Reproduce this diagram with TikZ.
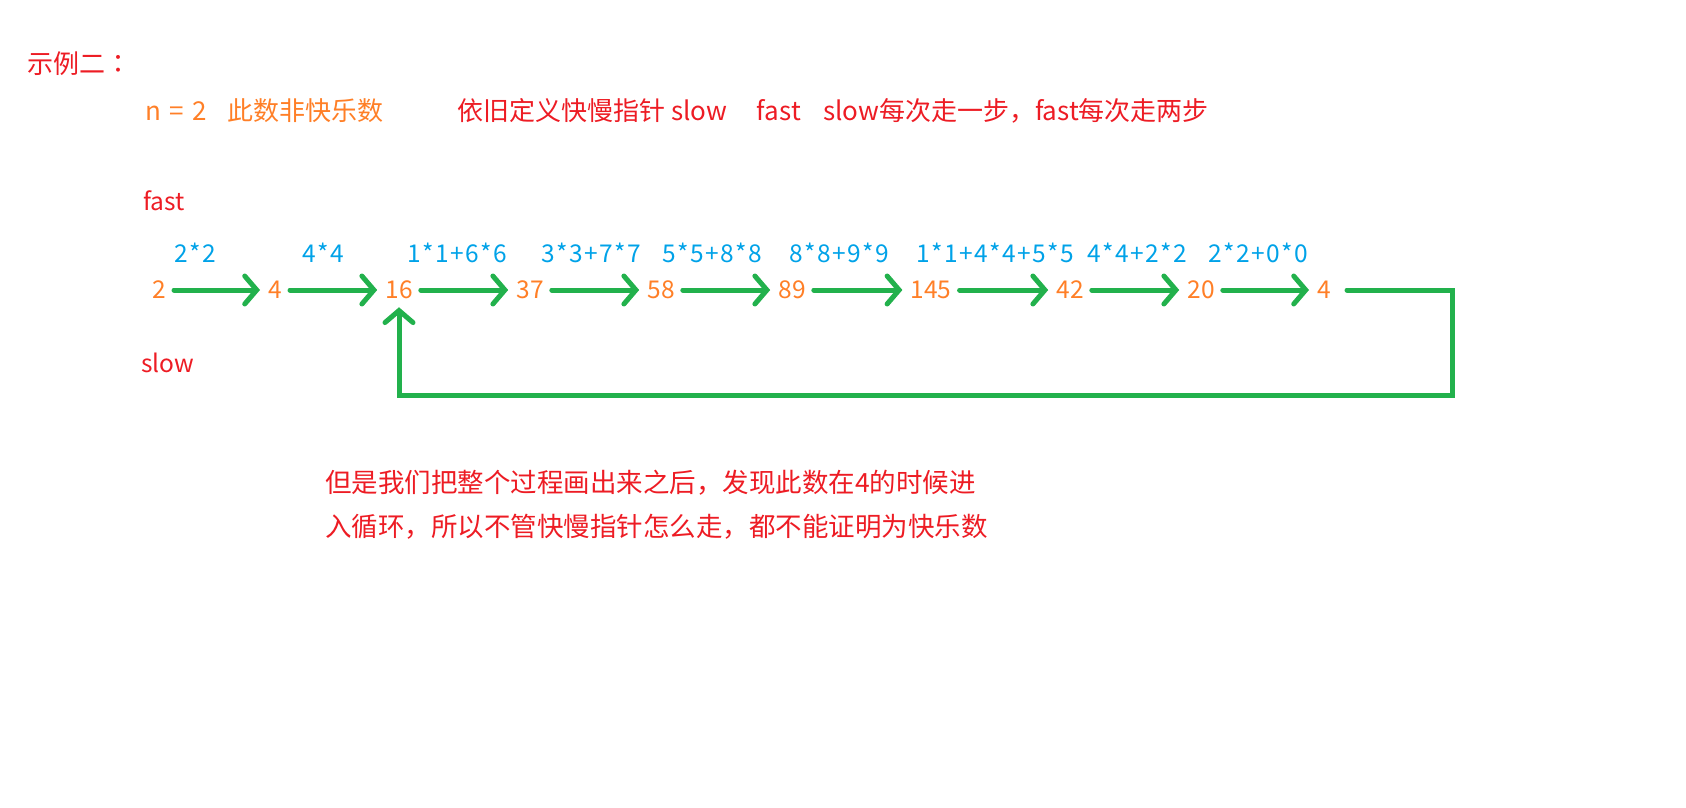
\documentclass[tikz,border=0pt]{standalone}
\usepackage{fontspec}
\setmainfont{Noto Sans CJK SC}
\newfontfamily\calcfont[LetterSpace=6]{Noto Sans CJK SC}
\newfontfamily\jpfont{Noto Sans CJK JP}
\usetikzlibrary{arrows.meta}
\definecolor{pRed}{RGB}{237,28,36}
\definecolor{pOrange}{RGB}{255,127,39}
\definecolor{pBlue}{RGB}{0,162,232}
\definecolor{pGreen}{RGB}{34,177,76}

\begin{document}
\begin{tikzpicture}[x=1pt, y=-1pt, every node/.style={font=\fontsize{24.5}{29}\selectfont, inner sep=0pt},
	big/.style={font=\fontsize{26}{30}\selectfont},
	num/.style={pOrange, inner sep=8pt},
	calc/.style={pBlue, font=\calcfont\fontsize{24.5}{29}\selectfont},
	note/.style={pRed, anchor=west},
	hop/.style={pGreen, line width=5pt, line cap=round, -{Straight Barb[length=12pt, width=28pt, line cap=round]}}]
	\useasboundingbox (0,0) rectangle (1686,808);
	\node[note, big] (title) at (27,64) {示例二{\jpfont ：}};
	\node[pOrange, anchor=west, big] (given) at (145,111) {n~\hspace{0.1em}=~\hspace{0.1em}2\hspace{0.8em}此数非快乐数};
	\node[note, big] (rule) at (457,111) {依旧定义快慢指针 slow\hspace{1.15em}fast\hspace{0.85em}slow每次走一步，fast每次走两步};
	\node[note] (fastlbl) at (143,201) {fast};
	\node[note] (slowlbl) at (141,363) {slow};
	% the chain of squared digit sums
	\foreach \v/\x [count=\i] in {2/159, 4/275, 16/399, 37/530, 58/661, 89/792, 145/931, 42/1070, 20/1201, 4/1324}
		\node[num] (n\i) at (\x,290) {\v};
	\foreach \t/\x [count=\i] in {2*2/195, 4*4/323, 1*1+6*6/457, 3*3+7*7/591, 5*5+8*8/712, 8*8+9*9/839, 1*1+4*4+5*5/995, 4*4+2*2/1137, 2*2+0*0/1258}
		\node[calc] (c\i) at (\x,253) {\t};
	\foreach \i [evaluate=\i as \j using int(\i+1)] in {1,...,9}
		\draw[hop] (n\i) -- (n\j);
	\coordinate (back) at (1452,395);
	\draw[hop, shorten <=8pt] (n10) -| (back) -| (n3);
	\node[note, anchor=north west, align=left, font=\fontsize{26.5}{44}\selectfont] (verdict) at (325,470) {但是我们把整个过程画出来之后，发现此数在4的时候进\\入循环，所以不管快慢指针怎么走，都不能证明为快乐数};
\end{tikzpicture}
\end{document}
